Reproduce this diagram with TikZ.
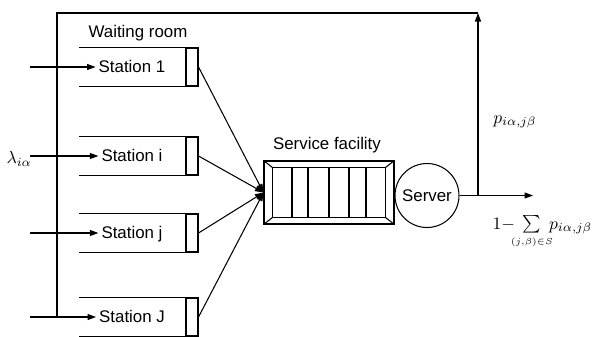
\documentclass[tikz,border=0pt]{standalone}
\usepackage{mathtools}
\usepackage{fontspec}
\setmainfont{Liberation Sans}
\usetikzlibrary{arrows.meta}
\tikzset{
  every node/.style={font=\fontsize{9.6}{11}\selectfont},
  lnk/.style={-{Triangle[length=1.7mm,width=1.2mm]}},
  gate/.style={draw,minimum width=0.24cm,minimum height=0.76cm,inner sep=0pt},
  stn/.style={inner xsep=1.5pt,text height=1.6ex,text depth=0.4ex},
}
\begin{document}
\begin{tikzpicture}[x=0.02cm,y=-0.02cm,line width=0.6pt]
  \useasboundingbox (0,0) rectangle (593,336);
  %
  % waiting room: one open box per station
  \node (wr) at (138,33) {Waiting room};
  \foreach \n/\y in {1/67, i/156, j/233, J/317} {
    \node[gate] (g\n) at (192,\y) {};
    \draw (g\n.north east) -- ++(-120,0);
    \draw (g\n.south east) -- ++(-120,0);
    \node[stn] (s\n) at (132,\y) {Station \n};
    \coordinate (a\n) at (30,\y);
    \draw[lnk] (a\n) -- (s\n);
  }
  \node[anchor=west,inner sep=0pt] (lam) at (6,159) {$\lambda_{i\alpha}$};
  %
  % service facility
  \node[draw,minimum width=2.6cm,minimum height=1.26cm,inner sep=0pt] (fac) at (329,192.5) {};
  \node (faclab) at (327,145) {Service facility};
  \draw ([shift={(9,7)}]fac.north west) rectangle ([shift={(-9,-7)}]fac.south east);
  \draw (fac.north west) -- ++(9,7);
  \draw (fac.north east) -- ++(-9,7);
  \draw (fac.south west) -- ++(9,-7);
  \draw (fac.south east) -- ++(-9,-7);
  \foreach \x in {292,308,329,349,366}
    \draw (\x,168) -- (\x,217);
  \foreach \n in {1,i,j,J}
    \draw[lnk] (g\n.east) -- (fac.west);
  %
  % server and routing
  \node[draw,circle,minimum size=1.28cm,inner sep=0pt] (srv) at (427,195.5) {Server};
  \coordinate (jn) at (478,195.5);
  \coordinate (out) at (533,195.5);
  \coordinate (top) at (478,13);
  \coordinate (lft) at (57,13);
  \draw[lnk] (srv) -- (out);
  \draw[lnk] (jn) -- (top);
  \draw (top) -- (lft) -- (lft |- sJ);
  \node[anchor=west] (pfb) at (487,122) {$p_{i\alpha,j\beta}$};
  \node[anchor=west,inner sep=0pt] (pout) at (492,232)
    {$1{-}\;\sum\limits_{\mathclap{\scriptscriptstyle(j,\beta)\in S}}\; p_{i\alpha,j\beta}$};
\end{tikzpicture}
\end{document}
